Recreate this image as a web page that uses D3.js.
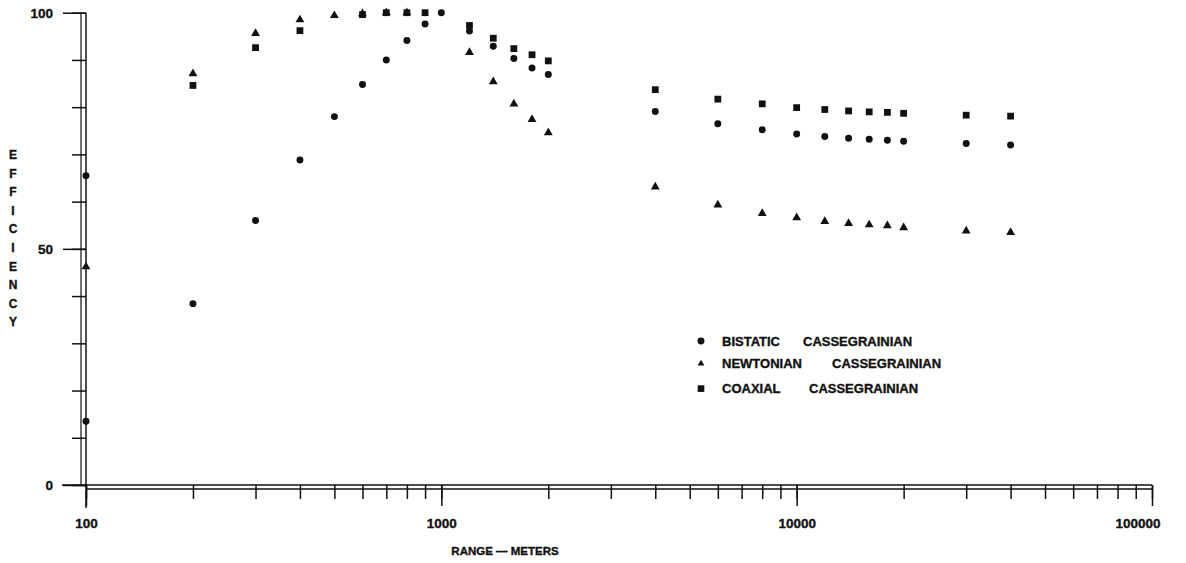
<!DOCTYPE html>
<html>
<head>
<meta charset="utf-8">
<script src="https://cdn.jsdelivr.net/npm/d3@7"></script>
<style>
  body { margin: 0; background: #fff; }
  svg text { font-family: "Liberation Sans", Arial, sans-serif; font-weight: bold; fill: #111; stroke: #111; stroke-width: 0.35px; }
</style>
</head>
<body>
<svg id="chart" width="1186" height="563"></svg>
<script>
// range in meters, efficiency in percent
const bistaticRange = [100, 100, 200, 300, 400, 500, 600, 700, 800, 900, 1000, 1200, 1400, 1600, 1800, 2000,
  4000, 6000, 8000, 10000, 12000, 14000, 16000, 18000, 20000, 30000, 40000];
const bistaticEff = [65.5, 13.5, 38.4, 56.0, 68.8, 78.0, 84.8, 90.0, 94.1, 97.6, 100, 96.1, 92.9, 90.3, 88.3, 86.9,
  79.1, 76.5, 75.2, 74.3, 73.8, 73.4, 73.2, 73.0, 72.8, 72.3, 72.0];

const newtonianRange = [100, 200, 300, 400, 500, 600, 700, 800, 1200, 1400, 1600, 1800, 2000,
  4000, 6000, 8000, 10000, 12000, 14000, 16000, 18000, 20000, 30000, 40000];
const newtonianEff = [46.2, 87.1, 95.6, 98.5, 99.4, 99.8, 100, 100, 91.6, 85.4, 80.7, 77.4, 74.6,
  63.1, 59.3, 57.5, 56.6, 55.8, 55.4, 55.1, 54.9, 54.5, 53.8, 53.5];

const coaxialRange = [200, 300, 400, 600, 700, 800, 900, 1200, 1400, 1600, 1800, 2000,
  4000, 6000, 8000, 10000, 12000, 14000, 16000, 18000, 20000, 30000, 40000];
const coaxialEff = [84.6, 92.6, 96.2, 99.6, 100, 100, 100, 97.3, 94.6, 92.4, 91.1, 89.8,
  83.7, 81.7, 80.7, 79.9, 79.5, 79.2, 79.0, 78.9, 78.7, 78.3, 78.1];

const seriesNames = ["BISTATIC", "NEWTONIAN", "COAXIAL"];
const seriesSuffix = "CASSEGRAINIAN";
const xMajorTicks = [100, 1000, 10000, 100000];
const yMajorTicks = [0, 50, 100];
const yTitle = "EFFICIENCY";
const xTitle = "RANGE \u2014 METERS";

const series = [
  {name: seriesNames[0], shape: d3.symbolCircle, size: 38, range: bistaticRange, eff: bistaticEff},
  {name: seriesNames[1], shape: d3.symbolTriangle, size: 34, range: newtonianRange, eff: newtonianEff},
  {name: seriesNames[2], shape: d3.symbolSquare, size: 46, range: coaxialRange, eff: coaxialEff}
];

const svg = d3.select("#chart");

const x = d3.scaleLog().domain([100, 100000]).range([86, 1152]);
const y = d3.scaleLinear().domain([0, 100]).range([485, 12.7]);

// x axis: double rule + ticks hanging below
const xAxis = svg.append("g").attr("transform", `translate(0,${y(0)})`);
xAxis.append("line").attr("x1", 62).attr("x2", x(100000)).attr("y1", 0).attr("y2", 0)
  .attr("stroke", "#111").attr("stroke-width", 1.5);
xAxis.append("line").attr("x1", x(100)).attr("x2", x(100000)).attr("y1", 4).attr("y2", 4)
  .attr("stroke", "#111").attr("stroke-width", 1.3);

const gxMinor = xAxis.append("g")
  .call(d3.axisBottom(x).tickValues(x.ticks()).tickSize(14).tickFormat(""));
gxMinor.select(".domain").remove();

const gxMajor = xAxis.append("g")
  .call(d3.axisBottom(x).tickValues(xMajorTicks).tickSize(21).tickPadding(12).tickFormat(d3.format("d")));
gxMajor.select(".domain").remove();
gxMajor.selectAll("text").attr("font-size", 13.5).style("font-family", null);
gxMajor.selectAll(".tick").filter(d => d === 100000).select("text")
  .attr("text-anchor", "end").attr("dx", 8);

xAxis.selectAll(".tick line").attr("stroke", "#111").attr("stroke-width", 1.5);

// y axis: double rule + ticks to the left
const yAxis = svg.append("g").attr("transform", `translate(${x(100)},0)`);
yAxis.append("line").attr("x1", 0).attr("x2", 0).attr("y1", y(100)).attr("y2", y(0) + 23)
  .attr("stroke", "#111").attr("stroke-width", 1.5);
yAxis.append("line").attr("x1", -5).attr("x2", -5).attr("y1", y(100)).attr("y2", y(0))
  .attr("stroke", "#111").attr("stroke-width", 1.2);

const gyMinor = yAxis.append("g")
  .call(d3.axisLeft(y).tickValues(d3.range(0, 101, 10)).tickSize(14).tickFormat(""));
gyMinor.select(".domain").remove();

const gyMajor = yAxis.append("g")
  .call(d3.axisLeft(y).tickValues(yMajorTicks).tickSize(23).tickPadding(10).tickFormat(d3.format("d")));
gyMajor.select(".domain").remove();
gyMajor.selectAll("text").attr("font-size", 13.5).style("font-family", null);

yAxis.selectAll(".tick line").attr("stroke", "#111").attr("stroke-width", 1.5);

// stacked y title
svg.append("g").selectAll("text")
  .data(yTitle.split(""))
  .join("text")
    .attr("x", 13)
    .attr("y", (d, i) => 159 + i * 18.6)
    .attr("text-anchor", "middle")
    .attr("font-size", 12)
    .text(d => d);

svg.append("text")
  .attr("x", 505)
  .attr("y", 555)
  .attr("text-anchor", "middle")
  .attr("font-size", 11.5)
  .text(xTitle);

// points
series.forEach(s => {
  svg.append("g").selectAll("path")
    .data(s.range.map((r, i) => [r, s.eff[i]]))
    .join("path")
      .attr("transform", d => `translate(${x(d[0])},${y(d[1])})`)
      .attr("d", d3.symbol(s.shape, s.size))
      .attr("fill", "#111");
});

// legend
const legend = svg.append("g").attr("transform", "translate(701,341)");
const gapX = [803, 832, 809];
const row = legend.selectAll("g")
  .data(series)
  .join("g")
    .attr("transform", (d, i) => `translate(0,${[0, 22.6, 47.6][i]})`);
row.append("path")
  .attr("d", (d, i) => d3.symbol(d.shape, [38, 20, 44][i])())
  .attr("fill", "#111");
row.append("text")
  .attr("x", 21)
  .attr("y", 4.5)
  .attr("font-size", 13)
  .text(d => d.name);
row.append("text")
  .attr("x", (d, i) => gapX[i] - 701)
  .attr("y", 4.5)
  .attr("font-size", 13)
  .text(seriesSuffix);
</script>
</body>
</html>
